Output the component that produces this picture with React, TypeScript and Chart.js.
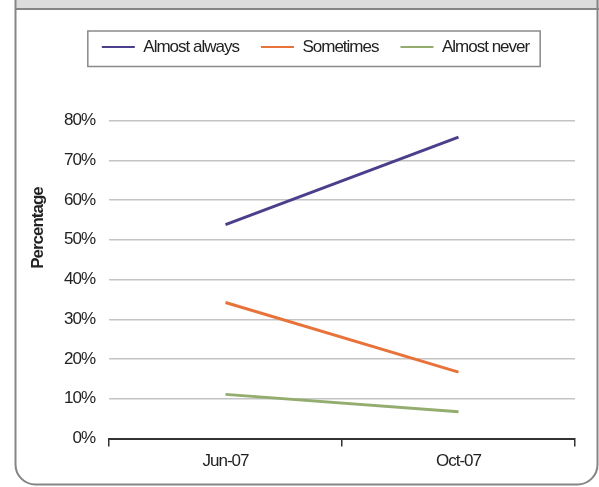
import React, { useEffect, useRef } from "react";
import { Chart, registerables } from "chart.js";

Chart.register(...registerables);

const categories = ["Jun-07", "Oct-07"];
const almostAlways = [53.8, 75.8];
const sometimes = [34.2, 16.7];
const almostNever = [11.1, 6.7];
const seriesNames = ["Almost always", "Sometimes", "Almost never"];
const seriesColors = ["#4b3f8c", "#e8733a", "#93ad6e"];
const yTitle = "Percentage";

const FONT = "'Liberation Sans', Arial, sans-serif";
const FS = 17;
const SPACING = "-1px";

const setSpacing = (chart: any) => {
  try {
    chart.ctx.letterSpacing = SPACING;
  } catch (e) {}
};

const legendSpacer = {
  id: "legendSpacer",
  beforeInit(chart: any) {
    setSpacing(chart);
    const orig = chart.legend.fit;
    chart.legend.fit = function fit() {
      setSpacing(chart);
      orig.bind(chart.legend)();
      this.height += 55;
    };
  },
  beforeUpdate(chart: any) {
    setSpacing(chart);
  },
  beforeLayout(chart: any) {
    setSpacing(chart);
  },
};

const framePlugin = {
  id: "frame",
  beforeDraw(chart: any) {
    const ctx = chart.ctx;
    setSpacing(chart);
    const W = chart.width;
    const H = chart.height;
    ctx.save();
    ctx.fillStyle = "#ffffff";
    ctx.fillRect(0, 0, W, H);
    // header band
    ctx.fillStyle = "#dcdcdc";
    ctx.fillRect(15, 0, W - 15, 9);
    // frame with rounded bottom corners
    const l = 15.5, r = W - 1.5, t = -5, b = H - 2.5, rad = 20;
    ctx.beginPath();
    ctx.moveTo(l, t);
    ctx.lineTo(l, b - rad);
    ctx.arcTo(l, b, l + rad, b, rad);
    ctx.lineTo(r - rad, b);
    ctx.arcTo(r, b, r, b - rad, rad);
    ctx.lineTo(r, t);
    ctx.strokeStyle = "#858585";
    ctx.lineWidth = 2;
    ctx.stroke();
    ctx.beginPath();
    ctx.moveTo(l, 9);
    ctx.lineTo(W, 9);
    ctx.stroke();
    ctx.restore();
  },
  afterDraw(chart: any) {
    const ctx = chart.ctx;
    const boxes = chart.legend.legendHitBoxes;
    if (boxes && boxes.length) {
      const first = boxes[0];
      const last = boxes[boxes.length - 1];
      const x0 = first.left - 14;
      const x1 = last.left + last.width + 11;
      const y0 = first.top - 7.5;
      const y1 = first.top + first.height + 11;
      ctx.save();
      ctx.strokeStyle = "#8a8a8a";
      ctx.lineWidth = 1.5;
      ctx.strokeRect(x0, y0, x1 - x0, y1 - y0);
      ctx.restore();
    }
    // y axis title
    ctx.save();
    ctx.translate(38, 228);
    ctx.rotate(-Math.PI / 2);
    ctx.font = `bold ${FS}px ${FONT}`;
    ctx.fillStyle = "#222";
    ctx.textAlign = "center";
    ctx.textBaseline = "middle";
    ctx.fillText(yTitle, 0, 0);
    ctx.restore();
  },
};

export default function App() {
  const ref = useRef<HTMLCanvasElement>(null);
  useEffect(() => {
    if (!ref.current) return;
    Chart.defaults.font.family = FONT;
    const data = [almostAlways, sometimes, almostNever];
    const chart = new Chart(ref.current, {
      type: "line",
      data: {
        labels: categories,
        datasets: seriesNames.map((name, i) => ({
          label: name,
          data: data[i],
          borderColor: seriesColors[i],
          backgroundColor: seriesColors[i],
          borderWidth: 3,
          pointRadius: 0,
          tension: 0,
        })),
      },
      options: {
        responsive: false,
        animation: false,
        layout: { padding: { left: 56, right: 24, top: 16.5, bottom: 0 } },
        plugins: {
          tooltip: { enabled: false },
          title: { display: false },
          legend: {
            display: true,
            position: "top",
            align: "center",
            labels: {
              usePointStyle: true,
              pointStyle: "line",
              pointStyleWidth: 33,
              padding: 22,
              color: "#222",
              font: { size: FS, family: FONT },
              generateLabels: (chart: any) =>
                Chart.defaults.plugins.legend.labels
                  .generateLabels(chart)
                  .map((it: any) => ({ ...it, lineWidth: 2, pointStyle: "line" })),
            },
          },
        },
        scales: {
          x: {
            offset: true,
            afterFit: (s: any) => {
              s.height = 48.5;
            },
            grid: {
              display: true,
              offset: true,
              drawOnChartArea: false,
              drawTicks: true,
              tickLength: 8,
              color: "#333",
              lineWidth: 1.5,
            },
            border: { display: true, color: "#333", width: 2 },
            ticks: {
              color: "#222",
              font: { size: FS, family: FONT },
              padding: 5,
              maxRotation: 0,
            },
          },
          y: {
            min: 0,
            max: 80,
            afterFit: (s: any) => {
              s.width = 53;
            },
            grid: {
              drawTicks: false,
              tickLength: 0,
              lineWidth: 1.5,
              color: (c: any) => (c.tick && c.tick.value === 0 ? "rgba(0,0,0,0)" : "#c4c4c4"),
            },
            border: { display: false },
            ticks: {
              stepSize: 10,
              padding: 14,
              color: "#222",
              font: { size: FS, family: FONT },
              callback: (v: any) => `${v}%`,
            },
          },
        },
      },
      plugins: [legendSpacer, framePlugin],
    });
    return () => chart.destroy();
  }, []);
  return (
    <div style={{ position: "fixed", left: 0, top: 0, width: 599, height: 487 }}>
      <canvas ref={ref} width={599} height={487} />
    </div>
  );
}
